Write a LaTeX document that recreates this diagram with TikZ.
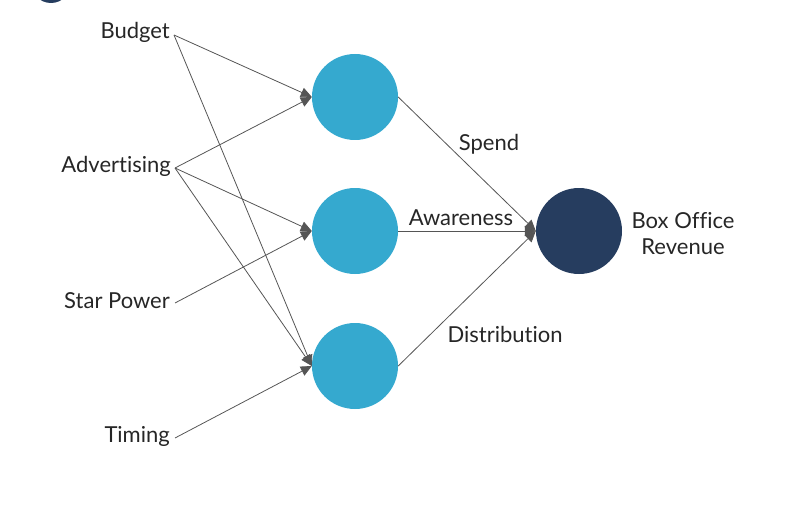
\documentclass[tikz,border=0pt]{standalone}
\usepackage{fontspec}
\setmainfont{Lato}[Ligatures=NoCommon]
\usetikzlibrary{arrows.meta}
\definecolor{lblue}{HTML}{35A9CF}
\definecolor{navy}{HTML}{263D5F}
\definecolor{edgegray}{HTML}{555555}
\begin{document}
\begin{tikzpicture}[x=1pt,y=-1pt,
  hid/.style={circle,fill=lblue,minimum size=86pt,inner sep=0pt},
  outn/.style={circle,fill=navy,minimum size=86pt,inner sep=0pt},
  lbl/.style={font=\fontsize{22}{26}\selectfont,text=black!85,inner sep=0pt},
  edge/.style={draw=edgegray,line width=0.8pt,-{Triangle[length=11pt,width=10pt]}}]
\useasboundingbox (0,0) rectangle (799,505);
\begin{scope}
\clip (0,0) rectangle (799,505);
\node[circle,fill=navy,minimum size=40pt,inner sep=0pt] (corner) at (51,-17) {};
\end{scope}
\node[lbl,anchor=east] (budget) at (170,32) {Budget};
\node[lbl,anchor=east] (adv) at (171,166) {Advertising};
\node[lbl,anchor=east] (star) at (170,301) {Star Power};
\node[lbl,anchor=east] (timing) at (170,436) {Timing};
\coordinate (pb) at (174,35);
\coordinate (pa) at (175,168);
\coordinate (ps) at (175,303);
\coordinate (pt) at (175,438);
\node[hid] (h1) at (355,97) {};
\node[hid] (h2) at (355,231) {};
\node[hid] (h3) at (355,366) {};
\node[outn] (out) at (579,231) {};
\path[edge] (pb) -- (h1.west);
\path[edge] (pa) -- (h1.west);
\path[edge] (pa) -- (h2.west);
\path[edge] (ps) -- (h2.west);
\path[edge] (pb) -- (h3.west);
\path[edge] (pa) -- (h3.west);
\path[edge] (pt) -- (h3.west);
\path[edge] (h1.east) -- (out.west);
\path[edge] (h2.east) -- (out.west);
\path[edge] (h3.east) -- (out.west);
\node[lbl] (spend) at (489,144) {Spend};
\node[lbl] (aware) at (461,218) {Awareness};
\node[lbl] (dist) at (505,334) {Distribution};
\node[lbl,align=center] (box) at (683,234) {Box Office\\Revenue};
\end{tikzpicture}
\end{document}
